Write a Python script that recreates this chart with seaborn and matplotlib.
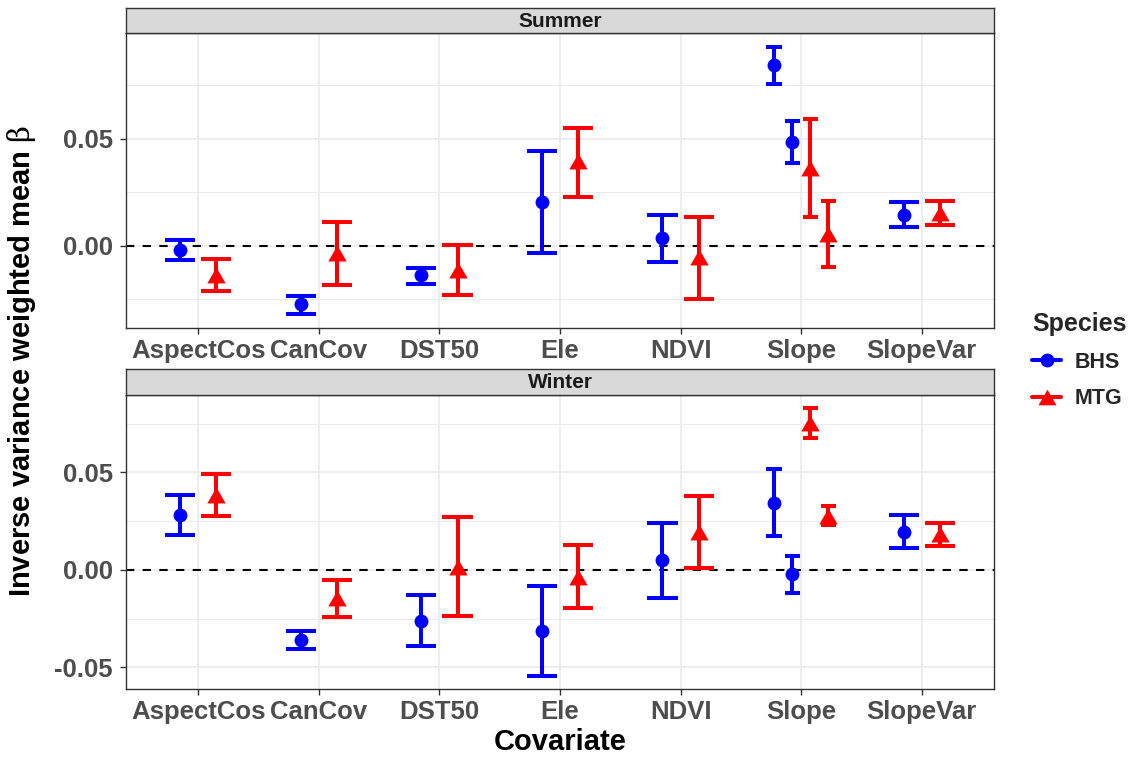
import numpy as np
import pandas as pd
import matplotlib
matplotlib.use("Agg")
import matplotlib.pyplot as plt
from matplotlib.lines import Line2D
from matplotlib.ticker import FixedLocator, FuncFormatter
import seaborn as sns

# ---- data -------------------------------------------------------------
covariates = ["AspectCos", "CanCov", "DST50", "Ele", "NDVI", "Slope", "SlopeVar"]
species = ["BHS", "MTG"]
seasons = ["Summer", "Winter"]

# each species has two Slope terms
terms = ["AspectCos", "CanCov", "DST50", "Ele", "NDVI", "Slope", "Slope", "SlopeVar"]

summer_bhs_est = [-0.0019, -0.0276, -0.0140, 0.0202, 0.0033, 0.0843, 0.0483, 0.0145]
summer_bhs_lo = [-0.0067, -0.0322, -0.0179, -0.0037, -0.0079, 0.0754, 0.0386, 0.0089]
summer_bhs_hi = [0.0028, -0.0234, -0.0103, 0.0441, 0.0143, 0.0931, 0.0581, 0.0204]

summer_mtg_est = [-0.0136, -0.0036, -0.0114, 0.0394, -0.0055, 0.0363, 0.0053, 0.0154]
summer_mtg_lo = [-0.0215, -0.0185, -0.0232, 0.0226, -0.0252, 0.0134, -0.0101, 0.0098]
summer_mtg_hi = [-0.0061, 0.0111, 0.0003, 0.0551, 0.0134, 0.0593, 0.0207, 0.0209]

winter_bhs_est = [0.0282, -0.0361, -0.0262, -0.0313, 0.0053, 0.0344, -0.0022, 0.0197]
winter_bhs_lo = [0.0178, -0.0407, -0.0393, -0.0544, -0.0144, 0.0173, -0.0119, 0.0111]
winter_bhs_hi = [0.0383, -0.0313, -0.0128, -0.0082, 0.0243, 0.0516, 0.0072, 0.0281]

winter_mtg_est = [0.0385, -0.0145, 0.0017, -0.0034, 0.0195, 0.0753, 0.0279, 0.0183]
winter_mtg_lo = [0.0275, -0.0243, -0.0237, -0.0195, 0.0010, 0.0677, 0.0231, 0.0123]
winter_mtg_hi = [0.0491, -0.0051, 0.0270, 0.0127, 0.0380, 0.0829, 0.0327, 0.0243]

series = {
    ("Summer", "BHS"): (summer_bhs_est, summer_bhs_lo, summer_bhs_hi),
    ("Summer", "MTG"): (summer_mtg_est, summer_mtg_lo, summer_mtg_hi),
    ("Winter", "BHS"): (winter_bhs_est, winter_bhs_lo, winter_bhs_hi),
    ("Winter", "MTG"): (winter_mtg_est, winter_mtg_lo, winter_mtg_hi),
}

rows = []
for (season, sp), (est, lo, hi) in series.items():
    for term, e, l, h in zip(terms, est, lo, hi):
        rows.append(dict(season=season, covariate=term, species=sp, est=e, lo=l, hi=h))
df = pd.DataFrame(rows)

# ---- dodge positions (like position_dodge(width=0.6)) -----------------
DODGE = 0.6
ERR_W = 0.5
df["code"] = df["covariate"].map({c: i for i, c in enumerate(covariates)})
df["order"] = df.groupby(["season", "covariate"]).cumcount()
df["n"] = df.groupby(["season", "covariate"])["est"].transform("size")
df["xpos"] = df["code"] + (df["order"] - (df["n"] - 1) / 2) * DODGE / df["n"]
df["cap"] = ERR_W / df["n"] / 2

# ---- styling ---------------------------------------------------------
sns.set_theme(style="white")
plt.rcParams["font.family"] = ["Liberation Sans", "DejaVu Sans"]
plt.rcParams["font.weight"] = "bold"
plt.rcParams["mathtext.fontset"] = "custom"
plt.rcParams["mathtext.rm"] = "DejaVu Serif:normal"

palette = {"BHS": "#0000FF", "MTG": "#FF0000"}
tri = [(-1.0, -0.866), (1.0, -0.866), (0.0, 0.866)]
markers = {"BHS": "o", "MTG": tri}
marker_sizes = {"BHS": 100, "MTG": 175}

W, H = 1141, 759
fig = plt.figure(figsize=(W / 100, H / 100), dpi=100)

left, right = 126, 994
panels = {"Summer": (33.3, 327.7), "Winter": (395.0, 689.3)}
strip_h = 25.6

for season in seasons:
    top, bot = panels[season]
    ax = fig.add_axes([left / W, 1 - bot / H, (right - left) / W, (bot - top) / H])
    sax = fig.add_axes([left / W, 1 - top / H, (right - left) / W, strip_h / H])
    sub = df[df["season"] == season]

    # free y scale with 5% expansion
    ymin, ymax = sub["lo"].min(), sub["hi"].max()
    pad = 0.05 * (ymax - ymin)
    ax.set_ylim(ymin - pad, ymax + pad)
    ax.set_xlim(-0.6, len(covariates) - 1 + 0.6)

    # grid
    major = [v for v in np.arange(-0.10, 0.11, 0.05) if ymin - pad <= v <= ymax + pad]
    minor = [v for v in np.arange(-0.075, 0.1, 0.05) if ymin - pad <= v <= ymax + pad]
    for v in minor:
        ax.axhline(v, color="#EBEBEB", lw=0.7, zorder=0)
    for v in major:
        ax.axhline(v, color="#EBEBEB", lw=1.2, zorder=0)
    for i in range(len(covariates)):
        ax.axvline(i, color="#EBEBEB", lw=1.2, zorder=0)

    ax.axhline(0, color="black", lw=1.5, ls=(0, (4, 4)), zorder=1)

    # error bars with caps
    for sp in species:
        s = sub[sub["species"] == sp]
        ax.vlines(s["xpos"], s["lo"], s["hi"], color=palette[sp], lw=2.9, zorder=2,
                  capstyle="butt")
        for col in ("lo", "hi"):
            ax.hlines(s[col], s["xpos"] - s["cap"], s["xpos"] + s["cap"],
                      color=palette[sp], lw=2.9, zorder=2, capstyle="butt")

    for sp in species:
        s = sub[sub["species"] == sp]
        sns.scatterplot(data=s, x="xpos", y="est", color=palette[sp],
                        marker=markers[sp], s=marker_sizes[sp], linewidth=0,
                        ax=ax, zorder=3, legend=False)

    ax.xaxis.set_major_locator(FixedLocator(range(len(covariates))))
    ax.set_xticklabels(covariates)
    ax.yaxis.set_major_locator(FixedLocator(major))
    ax.yaxis.set_major_formatter(FuncFormatter(lambda v, p: f"{v:.2f}".replace("-0.00", "0.00")))
    ax.tick_params(axis="both", which="major", length=4.3, width=1.0, color="#333333",
                   labelcolor="#4D4D4D", labelsize=18.5, direction="out",
                   bottom=True, left=True)
    ax.tick_params(axis="x", pad=3.5)
    ax.tick_params(axis="y", pad=5)
    for lab in ax.get_xticklabels() + ax.get_yticklabels():
        lab.set_fontweight("bold")
    ax.set_xlabel("")
    ax.set_ylabel("")
    ax.set_facecolor("white")
    for sp_ in ax.spines.values():
        sp_.set_color("#333333")
        sp_.set_linewidth(1.0)
        sp_.set_visible(True)

    # facet strip
    sax.set_facecolor("#D9D9D9")
    sax.set_xticks([])
    sax.set_yticks([])
    for sp_ in sax.spines.values():
        sp_.set_color("#333333")
        sp_.set_linewidth(1.0)
    sax.text(0.5, 0.48, season, transform=sax.transAxes, ha="center", va="center",
             fontsize=15, fontweight="bold", color="#1A1A1A")

# axis titles
fig.text(560 / W, 1 - 742 / H, "Covariate", ha="center", va="center",
         fontsize=21, fontweight="bold", color="black")
fig.text(22 / W, 1 - 360.5 / H, r"Inverse variance weighted mean $\mathrm{\beta}$",
         ha="center", va="center", rotation=90, fontsize=21, fontweight="bold",
         color="black")

# legend
handles = [Line2D([0], [0], color=palette[sp], lw=2.9, marker=markers[sp],
                  markersize=10 if sp == "BHS" else 13, markeredgewidth=0)
           for sp in species]
leg = fig.legend(handles, species, title="Species", loc="upper left",
                 bbox_to_anchor=(1013 / W, 1 - 293 / H), frameon=False,
                 prop={"size": 15.5, "weight": "bold"}, title_fontsize=18,
                 handlelength=1.35, handletextpad=0.6, labelspacing=0.72)
leg.get_title().set_fontweight("bold")
leg._legend_box.align = "left"

fig.savefig("out.png", dpi=100)
